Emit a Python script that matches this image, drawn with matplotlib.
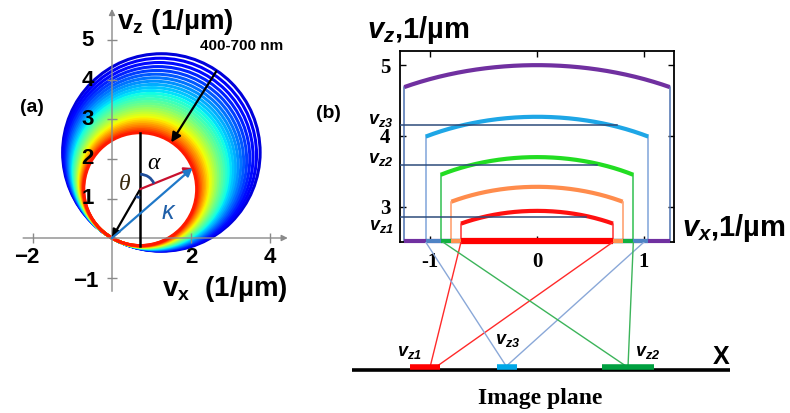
import numpy as np
import matplotlib
matplotlib.use('Agg')
import matplotlib.pyplot as plt
from matplotlib.patches import Circle, Arc

plt.rcParams['font.family'] = ['Liberation Sans', 'DejaVu Sans']
plt.rcParams['mathtext.fontset'] = 'custom'
plt.rcParams['mathtext.rm'] = 'Liberation Sans'
plt.rcParams['mathtext.it'] = 'Liberation Sans:italic'
plt.rcParams['mathtext.bf'] = 'Liberation Sans:bold'
plt.rcParams['mathtext.bfit'] = 'Liberation Sans:italic:bold'

# ---------------- data ----------------
# panel (a): Ewald circles for 400-700 nm
wavelengths_nm = list(range(400, 701, 10))
tilt_deg = 60          # direction of circle centres from +vx axis
alpha_deg = 68         # angle of scattered vector from vertical
x_ticks_a = [-2, 2, 4]
y_ticks_a = [-1, 1, 2, 3, 4, 5]

# panel (b): spectral caps
arc_apex = [2.94, 3.28, 3.70, 4.27, 5.00]
arc_half = [0.71, 0.80, 0.90, 1.04, 1.24]
arc_edge = [2.76, 3.07, 3.45, 3.99, 4.69]
arc_colors = ['#ff1010', '#ff8c4c', '#22dd22', '#1ea6e6', '#7030a0']
vert_colors = ['#ff3030', '#ff9a66', '#30c050', '#80a4da', '#4d72b0']
bar_colors = ['#ff0000', '#ff9450', '#10b040', '#4f83c4', '#7030a0']
vz_levels = [2.85, 3.59, 4.15]
vz_reach = [0.46, 0.56, 0.75]
vz_names = ['z1', 'z2', 'z3']
x_ticks_b = [-1, 0, 1]
x_ticklabels_b = ['-1', '0', '1']
y_ticks_b = [3, 4, 5]

# image plane rays / spots
ray_top = [-0.71, 0.71, -1.04, 1.00, -0.88, 0.90]
ray_bottom = [-1.00, -0.95, -0.28, -0.30, 0.85, 0.85]
ray_colors = ['#ff2a2a', '#ff2a2a', '#8aa8d8', '#8aa8d8', '#3cb45a', '#3cb45a']
spot_lo = [-1.19, -0.375, 0.61]
spot_hi = [-0.91, -0.19, 1.09]
spot_colors = ['#ff0000', '#00a8e8', '#00a040']
spot_names = ['z1', 'z3', 'z2']

# ---------------- layout ----------------
W, H = 790, 413
fig = plt.figure(figsize=(W / 100, H / 100), dpi=100)


def box(l, t, r, b):
    return [l / W, 1 - b / H, (r - l) / W, (b - t) / H]


# ================= panel (a) =================
ax = fig.add_axes(box(0, 0, 300, 300))
pxu, ox, oy = 39.5, 112, 238
ax.set_xlim((0 - ox) / pxu, (300 - ox) / pxu)
ax.set_ylim((oy - 300) / pxu, oy / pxu)
ax.axis('off')

cmap = plt.get_cmap('jet')
phi = np.deg2rad(tilt_deg)
lam_min, lam_max = min(wavelengths_nm), max(wavelengths_nm)
for lam in wavelengths_nm:
    r = 1000.0 / lam
    c = (r * np.cos(phi), r * np.sin(phi))
    t = 0.08 + 0.80 * (lam - lam_min) / (lam_max - lam_min)
    ax.add_patch(Circle(c, r, fill=False, lw=2.2, ec=cmap(t), zorder=2))

# axes (gray with arrows)
gray = '#8a8a8a'
ax.annotate('', xy=(4.45, 0), xytext=(-2.25, 0),
            arrowprops=dict(arrowstyle='-|>', color=gray, lw=1.0, shrinkA=0, shrinkB=0,
                            mutation_scale=9), zorder=5)
ax.annotate('', xy=(0, 5.8), xytext=(0, -1.35),
            arrowprops=dict(arrowstyle='-|>', color=gray, lw=1.0, shrinkA=0, shrinkB=0,
                            mutation_scale=9), zorder=5)
ax.plot(x_ticks_a, [0] * len(x_ticks_a), ls='none', marker='|', ms=7, mew=1, color=gray, zorder=5)
ax.plot([0] * len(y_ticks_a), y_ticks_a, ls='none', marker='_', ms=7, mew=1, color=gray, zorder=5)

tkw = dict(fontsize=16, fontweight='bold', ha='center', va='center', zorder=6)
for v in x_ticks_a:
    lbl = ('−%d' % abs(v)) if v < 0 else str(v)
    ax.text(v - (0.15 if v < 0 else 0), -0.50, lbl, **tkw)
for v in y_ticks_a:
    if v < 0:
        ax.text(-0.66, v - 0.11, '−%d' % abs(v), **tkw)
    else:
        ax.text(-0.62, v, str(v), **tkw)

ax.text(0.12, 5.47, r'$\mathbf{v}_{\mathbf{z}}$ (1/µm)', fontsize=20, fontweight='bold',
        ha='left', va='center')
ax.text(1.27, -1.30, r'$\mathbf{v}_{\mathbf{x}}$  (1/µm)', fontsize=20, fontweight='bold',
        ha='left', va='center')
ax.text(-2.03, 3.30, '(a)', fontsize=14, fontweight='bold', ha='center', va='center')

# geometry on the 700 nm circle
r7 = 1000.0 / lam_max
c7 = np.array([r7 * np.cos(phi), r7 * np.sin(phi)])
al = np.deg2rad(alpha_deg)
tip = c7 + r7 * np.array([np.sin(al), np.cos(al)])
ax.plot([c7[0], c7[0]], [c7[1] - r7, c7[1] + r7], color='black', lw=1.8, zorder=6)
akw = dict(shrinkA=0, shrinkB=0, lw=1.6, mutation_scale=12)
ax.annotate('', xy=(0, 0), xytext=c7, arrowprops=dict(arrowstyle='-|>', color='black', **akw), zorder=7)
ax.annotate('', xy=tip, xytext=c7, arrowprops=dict(arrowstyle='-|>', color='#c8102e', **akw), zorder=7)
ax.annotate('', xy=tip, xytext=(0, 0), arrowprops=dict(arrowstyle='-|>', color='#1f78c8', **akw), zorder=7)
ax.add_patch(Arc(c7, 0.75, 0.75, theta1=90 - alpha_deg, theta2=90, color='#1f4e9a', lw=2, zorder=7))
ax.add_patch(Arc(c7, 0.42, 0.42, theta1=180 + tilt_deg, theta2=270, color='#1f4e9a', lw=2, zorder=7))
ax.text(1.05, 1.88, 'α', fontsize=17, style='italic', family='Liberation Serif', ha='center', va='center', zorder=8)
ax.text(0.33, 1.36, 'θ', fontsize=17, style='italic', family='Liberation Serif', ha='center', va='center',
        color='#3a2a10', zorder=8)
ax.text(1.42, 0.66, 'κ', fontsize=18, style='italic', color='#1f5fa8', ha='center', va='center', zorder=8)

ax.text(2.23, 4.85, '400-700 nm', fontsize=11, fontweight='bold', ha='left', va='center')
ax.annotate('', xy=(1.50, 2.42), xytext=(2.64, 4.22),
            arrowprops=dict(arrowstyle='-|>', color='black', lw=1.6, shrinkA=0, shrinkB=0,
                            mutation_scale=14), zorder=8)

# ================= panel (b) =================
bl, bt, br, bb = 400, 51, 674, 242
bx = fig.add_axes(box(bl, bt, br, bb))
bxlim = (-1.28, 1.28)
bx.set_xlim(*bxlim)
bx.set_ylim(2.5, 5.2)
for s in bx.spines.values():
    s.set_linewidth(1.3)
bx.set_xticks(x_ticks_b)
bx.set_xticklabels(x_ticklabels_b)
bx.set_yticks(y_ticks_b)
bx.tick_params(direction='in', length=4, width=1, top=True, right=True, pad=7)
for lab in bx.get_xticklabels() + bx.get_yticklabels():
    lab.set_fontfamily('Liberation Serif')
    lab.set_fontweight('bold')
    lab.set_fontsize(15)

for apex, half, edge, col, vcol in zip(arc_apex, arc_half, arc_edge, arc_colors, vert_colors):
    s = apex - edge
    R = (half ** 2 + s ** 2) / (2 * s)
    xx = np.linspace(-half, half, 200)
    yy = apex - R + np.sqrt(R ** 2 - xx ** 2)
    bx.plot(xx, yy, color=col, lw=3, solid_capstyle='butt', zorder=3)
    for sx in (-half, half):
        bx.plot([sx, sx], [edge, 2.5], color=vcol, lw=1.1, zorder=2)

for half, col in sorted(zip(arc_half, bar_colors), reverse=True):
    bx.plot([-half, half], [2.515, 2.515], color=col, lw=4.5 if half == min(arc_half) else 3,
            solid_capstyle='butt', clip_on=False, zorder=4)

for lvl, reach, nm in zip(vz_levels, vz_reach, vz_names):
    bx.plot([bxlim[0], reach], [lvl, lvl], color='#2d4b7a', lw=1.1, zorder=5)
    bx.text(-1.34, lvl + (0.07 if nm != 'z1' else -0.13), r'$\mathbfit{v}_{\mathbfit{%s}}$' % nm,
            fontsize=13, ha='right', va='center')

fig.text(367 / W, 1 - 30 / H, r'$\mathbfit{v}_{\mathbfit{z}}$,1/µm', fontsize=21, fontweight='bold',
         ha='left', va='center')
fig.text(682 / W, 1 - 228 / H, r'$\mathbfit{v}_{\mathbfit{x}}$,1/µm', fontsize=21, fontweight='bold',
         ha='left', va='center')
fig.text(328 / W, 1 - 113 / H, '(b)', fontsize=14, fontweight='bold', ha='center', va='center')

# ================= image plane =================
ll, lt, lr, lb = 340, 242, 740, 380
ip_px = 370
ix = fig.add_axes(box(ll, lt, lr, lb))
scale = (bxlim[1] - bxlim[0]) / (br - bl)
ix.set_xlim(bxlim[0] + (ll - bl) * scale, bxlim[0] + (lr - bl) * scale)
ix.set_ylim(-(lb - ip_px) / (ip_px - lt), 1)
ix.axis('off')
ix.patch.set_alpha(0)

for xt, xb, col in zip(ray_top, ray_bottom, ray_colors):
    ix.plot([xt, xb], [1, 0.02], color=col, lw=1.0, zorder=2)
ix.plot([bxlim[0] + (352 - bl) * scale, bxlim[0] + (730 - bl) * scale], [0, 0],
        color='black', lw=2.6, solid_capstyle='butt', zorder=3)
for lo, hi, col in zip(spot_lo, spot_hi, spot_colors):
    ix.plot([lo, hi], [0.02, 0.02], color=col, lw=4, solid_capstyle='butt', zorder=4)
for (xl, yl), nm in zip([(-1.19, 0.14), (-0.27, 0.23), (1.03, 0.14)], spot_names):
    ix.text(xl, yl, r'$\mathbfit{v}_{\mathbfit{%s}}$' % nm, fontsize=13, ha='center', va='center')
ix.text(1.72, 0.10, 'X', fontsize=18, fontweight='bold', ha='center', va='center')
ix.text(0.03, -0.22, 'Image plane', fontsize=17, fontweight='bold', family='Liberation Serif',
        ha='center', va='center', clip_on=False)

fig.savefig('out.png', dpi=100)
